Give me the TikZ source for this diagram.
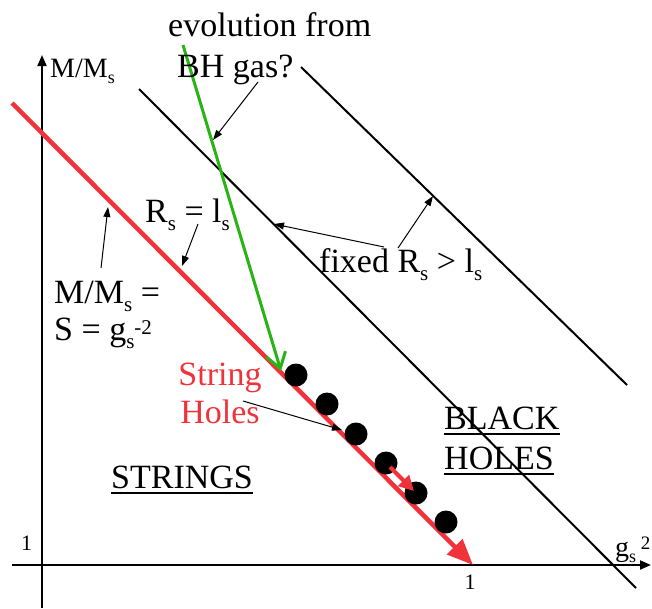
\documentclass[tikz,border=0pt]{standalone}
\usepackage{fontspec}
\setmainfont{Liberation Serif}
\usetikzlibrary{arrows.meta}
\definecolor{myred}{RGB}{240,50,58}
\definecolor{mygreen}{RGB}{40,180,20}
\newcommand\bsub[1]{\raisebox{-8pt}{\fontsize{21}{21}\selectfont #1}}
\newcommand\bsup[1]{\raisebox{6pt}{\fontsize{21}{21}\selectfont #1}}
\newcommand\msub[1]{\raisebox{-6.5pt}{\fontsize{18}{18}\selectfont #1}}
\newcommand\msup[1]{\raisebox{7pt}{\fontsize{19}{19}\selectfont #1}}
\begin{document}
\begin{tikzpicture}[x=1pt,y=-1pt,
  big/.style={inner sep=0pt,font=\fontsize{34}{40}\selectfont},
  mid/.style={inner sep=0pt,font=\fontsize{28}{32}\selectfont},
  small/.style={inner sep=0pt,font=\fontsize{22}{26}\selectfont},
  axis/.style={line width=2pt,-{Triangle[length=11pt,width=9pt]}},
  bline/.style={line width=2pt},
  thin/.style={line width=1pt,-{Triangle[length=10pt,width=7pt]}},
  ul/.style={line width=2pt},
  dot/.style={circle,fill=black,minimum size=23pt,inner sep=0pt}]
\useasboundingbox (0,0) rectangle (652,608);
% axes
\coordinate (yb) at (42,608); \coordinate (yt) at (42,55);
\coordinate (xl) at (12,565); \coordinate (xr) at (651,565);
\draw[axis] (yb) -- (yt);
\draw[axis] (xl) -- (xr);
% black lines
\coordinate (m1) at (139,89); \coordinate (m2) at (636,588);
\coordinate (u1) at (301,67); \coordinate (u2) at (627,385);
\draw[bline] (m1) -- (m2);
\draw[bline] (u1) -- (u2);
% red line
\coordinate (r1) at (12,103); \coordinate (r2) at (473,565);
\draw[myred,line width=4.5pt,-{Triangle[length=26pt,width=21pt]}] (r1) -- (r2);
% dots
\node[dot] (d1) at (296,375) {};
\node[dot] (d2) at (327,404) {};
\node[dot] (d3) at (356,434) {};
\node[dot] (d4) at (386,463) {};
\node[dot] (d5) at (416,493) {};
\node[dot] (d6) at (446,522) {};
% small red arrow
\coordinate (sa1) at (390,467); \coordinate (sa2) at (414,491);
\draw[myred,line width=4pt,-{Triangle[length=15pt,width=15pt]}] (sa1) -- (sa2);
% green line
\coordinate (g1) at (183,45); \coordinate (g2) at (281,371);
\draw[mygreen,line width=3pt,-{Straight Barb[length=15pt,width=20pt]}] (g1) -- (g2);
% texts
\node[big,anchor=base west] (evo) at (168,36) {evolution from};
\node[big,anchor=base west] (bh) at (177,77) {BH gas?};
\node[mid,anchor=base west] (ylab) at (50,77) {M/M\msub{s}};
\node[big,anchor=base west] (rs) at (145,222) {R\bsub{s} = l\bsub{s}};
\node[big,anchor=base west] (mm) at (54,303) {M/M\bsub{s} =};
\node[big,anchor=base west] (sg) at (54,340) {S = g\bsub{s}\bsup{-2}};
\node[big,anchor=base west] (fx) at (319,272) {fixed R\bsub{s} > l\bsub{s}};
\node[big,anchor=base,text=myred] (str) at (220,385) {String};
\node[big,anchor=base,text=myred] (hol) at (220,423) {Holes};
\node[big,anchor=base west] (strs) at (111,488) {STRINGS};
\node[big,anchor=base west] (bl) at (444,429) {BLACK};
\node[big,anchor=base west] (bho) at (444,469) {HOLES};
\node[small,anchor=base west] (one1) at (21,550) {1};
\node[small,anchor=base] (one2) at (470,589) {1};
\node[mid,anchor=base west] (gs) at (615,556) {g\msub{s}\,\msup{2}};
% underlines
\draw[ul] ([yshift=-5pt]strs.base west) -- ([yshift=-5pt]strs.base east);
\draw[ul] ([yshift=-5pt]bl.base west) -- ([yshift=-5pt]bl.base east);
\draw[ul] ([yshift=-5pt]bho.base west) -- ([yshift=-5pt]bho.base east);
% thin arrows
\coordinate (a1s) at (258,82); \coordinate (a1e) at (213,140);
\draw[thin] (a1s) -- (a1e);
\coordinate (a2s) at (198,224); \coordinate (a2e) at (182,266);
\draw[thin] (a2s) -- (a2e);
\coordinate (a3s) at (101,268); \coordinate (a3e) at (108,207);
\draw[thin] (a3s) -- (a3e);
\coordinate (a4s) at (384,247); \coordinate (a4e) at (274,224);
\draw[thin] (a4s) -- (a4e);
\coordinate (a5s) at (398,248); \coordinate (a5e) at (433,196);
\draw[thin] (a5s) -- (a5e);
\coordinate (a6s) at (243,401); \coordinate (a6e) at (342,430);
\draw[thin] (a6s) -- (a6e);
\end{tikzpicture}
\end{document}
